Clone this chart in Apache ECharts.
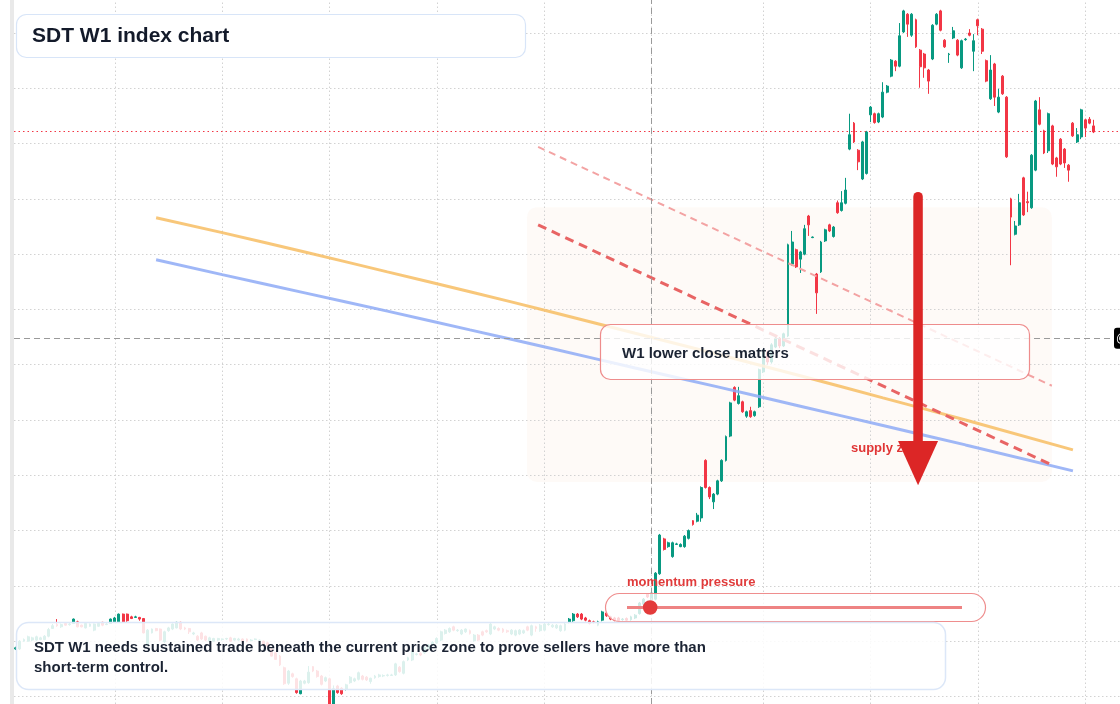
<!DOCTYPE html>
<html>
<head>
<meta charset="utf-8">
<title>SDT W1 index chart</title>
<script src="https://cdn.jsdelivr.net/npm/echarts@6/dist/echarts.min.js"></script>
<style>
  html, body { margin: 0; padding: 0; background: #fff; }
  #main { width: 1120px; height: 704px; }
</style>
</head>
<body>
<div id="main"></div>
<script>
// weekly candles, one row per week: [open, close, low, high]
var candles = [
  [108.6,108.8,108.4,109.0],[108.6,110.0,108.4,110.2],[110.0,110.3,109.9,110.5],[110.0,110.8,109.9,111.0],
  [110.2,110.6,110.0,110.8],[110.2,110.8,110.0,111.0],[110.3,110.6,110.2,110.8],[110.3,110.9,110.2,111.1],
  [110.9,112.1,110.7,112.4],[112.3,112.8,112.2,113.1],[113.0,112.8,112.6,114.0],[112.6,113.0,112.4,113.2],
  [113.2,112.9,112.8,113.4],[113.0,113.1,112.8,113.3],[113.2,114.0,113.1,114.1],[113.5,112.6,112.5,113.7],
  [112.9,112.6,112.5,113.0],[112.4,113.2,112.3,113.3],[112.7,113.1,112.6,113.2],[112.0,113.1,111.8,113.2],
  [112.7,113.2,112.6,113.4],[113.4,112.9,112.7,113.5],[113.0,113.1,112.9,113.3],[113.2,114.0,113.1,114.1],
  [113.5,114.2,113.3,114.4],[113.5,114.9,113.3,115.0],[114.9,113.5,113.4,115.0],[114.9,113.7,113.5,115.0],
  [114.4,114.1,114.0,114.6],[114.3,114.4,114.2,114.6],[114.3,114.0,113.7,114.4],[114.1,111.5,111.4,114.2],
  [109.3,112.0,109.1,112.2],[111.5,112.2,111.4,112.3],[112.3,111.9,111.8,112.4],[112.2,110.2,110.0,112.3],
  [109.9,111.7,109.7,111.9],[111.9,112.4,111.7,112.6],[112.2,113.1,112.0,113.2],[112.4,113.4,112.3,113.5],
  [113.4,112.2,112.0,113.5],[112.4,112.2,112.0,112.6],[112.3,111.7,111.3,112.4],[111.3,111.5,111.1,111.7],
  [110.9,110.2,110.0,111.1],[111.5,110.4,110.2,111.7],[110.9,110.2,110.0,111.0],[110.0,110.6,109.9,110.8],
  [110.0,110.5,109.9,110.6],[110.2,110.5,110.0,110.6],[110.3,110.4,110.1,110.5],[110.4,110.5,110.2,110.6],
  [110.6,110.0,109.9,110.8],[110.2,110.5,110.1,110.6],[110.2,110.4,110.1,110.6],[110.4,110.0,109.9,110.5],
  [110.4,110.0,109.8,110.5],[110.1,110.2,110.0,110.4],[110.3,110.4,110.2,110.5],[110.1,110.2,110.0,110.3],
  [110.0,109.4,109.3,110.1],[109.7,109.1,109.0,109.9],[108.5,107.3,107.2,108.7],[107.9,106.7,106.6,108.1],
  [107.3,105.7,105.5,107.5],[105.2,102.3,102.1,105.4],[102.4,104.6,102.1,104.8],[104.1,103.6,103.4,104.3],
  [103.2,100.7,100.5,103.4],[100.5,102.8,100.4,103.0],[102.4,102.8,102.2,103.0],[102.5,104.4,102.3,105.5],
  [105.4,104.6,104.4,105.5],[104.6,103.6,103.4,104.8],[103.7,102.2,102.0,103.9],[102.8,103.4,102.6,103.6],
  [103.2,98.3,97.9,103.4],[98.3,101.4,97.9,102.0],[101.9,100.7,100.5,102.1],[101.5,100.5,100.3,101.7],
  [101.3,102.1,101.1,102.3],[102.5,103.5,102.3,103.7],[102.8,103.2,102.6,103.4],[103.1,104.3,102.9,104.5],
  [103.7,103.1,102.9,103.9],[103.5,103.0,102.8,103.7],[102.7,103.3,102.3,103.4],[103.4,103.7,103.2,103.9],
  [103.6,103.9,103.4,104.1],[103.7,103.8,103.5,104.0],[103.8,103.9,103.6,104.1],[103.8,103.9,103.7,104.1],
  [103.9,105.9,103.7,106.1],[105.3,104.5,104.3,105.5],[104.2,106.3,104.0,106.5],[106.6,107.0,106.4,107.2],
  [106.6,108.1,106.4,108.3],[107.6,107.7,107.4,107.9],[107.8,107.5,107.3,108.0],[107.9,108.9,107.7,109.1],
  [108.7,109.3,108.5,109.5],[109.3,109.8,109.1,110.0],[109.7,110.5,109.5,110.7],[110.2,111.7,110.0,111.9],
  [111.4,112.0,111.2,112.2],[111.7,112.3,111.5,112.5],[112.6,112.0,111.8,112.8],[111.9,112.0,111.7,112.2],
  [111.3,112.0,111.1,112.2],[111.7,112.2,111.5,112.3],[111.9,111.4,111.2,112.1],[110.1,111.1,109.9,111.3],
  [111.1,110.2,110.0,111.3],[111.7,111.1,110.9,111.9],[111.9,111.7,111.5,112.1],[111.3,113.1,111.1,113.3],
  [112.2,112.6,112.0,112.8],[112.3,112.0,111.8,112.5],[112.2,111.7,111.5,112.4],[111.9,111.7,111.5,112.1],
  [111.3,112.0,111.1,112.2],[111.1,111.9,110.9,112.1],[111.3,112.0,111.1,112.2],[111.5,111.9,111.3,112.1],
  [112.6,112.0,111.8,112.8],[111.1,112.8,110.9,113.0],[112.6,112.3,111.7,112.8],[111.9,112.9,111.7,113.1],
  [112.0,113.1,111.8,113.3],[113.0,113.1,112.8,113.3],[112.6,112.9,112.4,113.1],[112.4,112.9,112.2,113.1],
  [111.9,112.8,111.7,113.0],[112.0,113.1,111.8,113.3],[113.4,114.0,113.2,114.2],[113.7,114.9,113.5,115.1],
  [114.9,114.4,114.2,115.1],[114.9,114.0,113.8,115.1],[114.2,113.8,113.6,114.4],[113.7,113.2,113.0,113.9],
  [113.5,113.4,113.2,113.7],[112.9,113.5,112.7,113.7],[113.8,115.3,113.6,115.5],[115.1,114.6,114.4,115.3],
  [114.4,114.0,113.8,114.6],[114.2,113.8,113.6,114.4],[114.2,113.7,113.5,114.4],[113.9,114.0,113.7,114.2],
  [114.1,113.8,113.6,114.3],[113.9,114.4,113.7,114.6],[114.2,114.7,114.0,114.9],[115.0,116.9,114.8,117.1],
  [116.7,117.6,116.5,117.8],[118.5,118.0,117.8,118.7],[117.5,118.7,117.3,118.9],[117.6,122.3,117.4,122.5],
  [122.2,129.2,122.0,129.4],[128.5,126.6,126.4,128.7],[127.1,127.8,126.9,128.0],[125.3,127.8,125.1,128.0],
  [127.5,127.6,127.4,127.8],[127.1,127.5,127.0,127.7],[127.1,129.0,126.9,129.2],[128.6,130.0,128.4,130.2],
  [131.8,131.1,130.9,131.9],[131.7,132.8,131.5,133.2],[132.3,137.8,131.6,138.0],[142.7,137.8,137.6,142.9],
  [137.8,136.1,135.7,138.0],[135.2,136.6,133.9,136.8],[136.6,139.0,136.4,139.2],[139.0,142.7,138.8,142.9],
  [142.7,147.0,142.5,147.2],[147.1,153.1,146.9,153.3],[155.9,153.6,153.4,156.1],[153.0,154.4,152.8,156.0],
  [153.3,151.5,151.3,153.5],[150.7,151.5,150.4,151.7],[151.7,150.6,150.4,152.4],[150.8,151.5,150.6,151.7],
  [152.4,159.1,152.2,159.3],[158.7,162.3,158.5,162.8],[162.3,160.5,160.0,162.6],[160.5,163.6,160.2,163.9],
  [163.2,164.8,163.0,165.2],[164.8,163.4,163.0,165.0],[163.4,165.6,163.2,165.8],[165.2,181.7,165.0,181.9],
  [178.2,182.2,177.9,184.2],[180.8,177.7,177.5,181.0],[179.1,180.4,176.6,180.6],[180.0,184.6,179.8,185.3],
  [186.9,185.3,183.3,187.1],[183.0,183.1,182.9,183.2],[176.4,173.0,169.2,176.6],[176.8,182.2,176.6,182.4],
  [182.4,184.4,182.2,184.6],[185.3,184.2,184.0,185.5],[183.2,184.9,183.0,185.1],[189.3,187.5,187.3,189.7],
  [187.9,189.3,187.7,191.4],[189.2,191.6,189.0,193.8],[199.0,201.6,198.8,205.4],[203.7,200.3,200.1,203.9],
  [198.8,196.7,195.2,199.0],[193.6,200.3,193.4,200.5],[194.6,202.1,194.4,202.3],[205.2,206.6,203.9,206.8],
  [205.4,203.8,203.6,205.6],[203.9,205.4,203.7,205.6],[204.8,209.3,204.6,211.1],[209.3,210.4,209.1,210.6],
  [212.2,215.1,212.0,215.3],[214.9,214.0,213.1,215.1],[214.0,219.5,213.8,221.8],[220.2,224.0,220.0,224.2],
  [223.4,221.6,219.3,223.6],[219.6,223.4,219.3,223.6],[222.4,217.5,217.3,222.6],[216.9,213.9,210.1,217.1],
  [216.2,213.7,211.9,216.4],[213.3,211.3,209.0,213.5],[215.3,221.4,215.1,221.6],[221.6,223.4,221.4,223.6],
  [224.0,220.5,220.3,224.2],[218.7,217.5,217.3,218.9],[216.1,216.2,214.6,216.4],[219.1,220.4,218.9,221.1],
  [218.7,216.0,215.8,218.9],[213.7,218.6,213.5,218.8],[218.8,218.9,218.6,219.1],[220.0,219.6,219.4,220.7],
  [216.7,218.6,213.1,219.8],[222.4,221.3,219.6,222.6],[220.7,216.7,216.2,220.9],[215.0,211.3,211.1,215.2],
  [208.1,213.3,207.9,216.0],[214.4,208.4,206.8,214.6],[205.7,208.4,205.5,209.9],[212.2,209.0,208.8,212.4],
  [208.4,197.6,197.4,208.6],[190.0,186.7,178.0,190.2],[183.6,185.1,183.4,186.0],[185.3,189.3,185.1,190.9],
  [193.8,187.1,186.9,194.0],[189.5,189.3,187.6,191.3],[188.4,197.9,188.2,198.1],[195.2,207.7,195.0,207.9],
  [206.1,203.5,203.3,208.4],[202.3,198.3,198.1,202.5],[198.7,205.4,198.3,205.6],[203.2,196.3,196.1,203.4],
  [197.4,195.8,194.0,197.6],[200.8,196.3,196.1,201.0],[199.0,196.5,195.6,199.2],[196.1,195.2,193.1,196.3],
  [203.7,201.4,201.2,203.9],[200.3,201.6,200.1,202.8],[201.2,206.1,200.8,206.3],[204.3,202.8,201.2,204.5],
  [204.4,203.7,203.5,204.8],[203.2,202.1,201.9,204.3]
];

// grid positions: half-year week marks and price levels
var gridWeeks = [24, 50, 76, 102, 128, 154, 181, 207, 233, 259];
var gridPrices = [100, 110, 120, 130, 140, 150, 160, 170, 180, 190, 200, 210, 220];
var crossWeek = 154;
var crossPrice = 164.8;
var lastPrice = 202.3;

// two long averages (orange = slow, blue = fast)
var avgWeeks = [34, 50, 70, 90, 110, 130, 150, 170, 190, 210, 230, 256];
var slowAvg = [186.6, 183.9, 180.4, 176.8, 173.2, 169.5, 165.7, 161.9, 158.0, 154.0, 150.0, 144.6];
var fastAvg = [179.0, 176.3, 173.0, 169.7, 166.3, 162.9, 159.4, 156.0, 152.5, 149.0, 145.5, 140.8];

// descending channel lines [week, price]
var upperChannel = [[126.5, 199.4], [250.9, 156.2]];
var lowerChannel = [[126.5, 185.3], [251.4, 141.7]];

// supply zone box and arrow, in weeks / price
var zoneWeeks = [123.8, 250.9];
var zonePrices = [188.5, 138.8];
var arrowWeek = 218.5;
var arrowPrices = [190.4, 146.2, 138.2];   // shaft top, head base, tip

var UP = '#089981', DOWN = '#f23645';
var FONT = '"Liberation Sans", Arial, sans-serif';
var GRID_LINE = { color: '#d2d2d2', width: 1, type: [1.5, 2.5] };

var chart = echarts.init(document.getElementById('main'));

var option = {
  animation: false,
  backgroundColor: '#ffffff',
  grid: { left: 14, right: 0, top: 0, bottom: 0 },
  xAxis: {
    type: 'value', min: -0.41, max: 267.4,
    axisLine: { show: false }, axisTick: { show: false }, axisLabel: { show: false },
    splitLine: { show: false }
  },
  yAxis: {
    type: 'value', min: 98.64, max: 225.97,
    axisLine: { show: false }, axisTick: { show: false }, axisLabel: { show: false },
    splitLine: { show: false }
  },
  series: [
    {
      type: 'candlestick',
      z: 2,
      silent: true,
      clip: false,
      barWidth: 2.4,
      data: candles.map(function (c, i) { return [i, c[0], c[1], c[2], c[3]]; }),
      itemStyle: { color: UP, color0: DOWN, borderColor: UP, borderColor0: DOWN, borderWidth: 1 },
      markLine: {
        z: 1, silent: true, symbol: 'none', animation: false,
        label: { show: false },
        lineStyle: GRID_LINE,
        data: gridWeeks.map(function (w) { return { xAxis: w }; })
          .concat(gridPrices.map(function (p) { return { yAxis: p }; }))
          .concat([{ yAxis: lastPrice, lineStyle: { color: DOWN, width: 1, type: [1.5, 3] } }])
      }
    },
    {
      type: 'line', z: 3, silent: true, smooth: true, symbol: 'none',
      data: avgWeeks.map(function (w, k) { return [w, slowAvg[k]]; }),
      lineStyle: { color: '#f7bd63', width: 3, opacity: 0.85 },
      markLine: {
        z: 4, silent: true, symbol: 'none', animation: false,
        label: { show: false },
        lineStyle: { color: '#9a9a9a', width: 1, type: [6, 4] },
        data: [{ xAxis: crossWeek }, { yAxis: crossPrice }]
      }
    },
    {
      type: 'line', z: 3, silent: true, smooth: true, symbol: 'none',
      data: avgWeeks.map(function (w, k) { return [w, fastAvg[k]]; }),
      lineStyle: { color: '#8eaaf6', width: 3, opacity: 0.85 }
    },
    {
      type: 'line', z: 3, silent: true, symbol: 'none',
      data: upperChannel,
      lineStyle: { color: '#f3a3a3', width: 2, type: [7, 5] }
    },
    {
      type: 'line', z: 3, silent: true, symbol: 'none',
      data: lowerChannel,
      lineStyle: { color: '#e86464', width: 3, type: [9, 6] }
    }
  ]
};

chart.setOption(option);

function px(week, price) { return chart.convertToPixel({ gridIndex: 0 }, [week, price]); }

var z1 = px(zoneWeeks[0], zonePrices[0]);
var z2 = px(zoneWeeks[1], zonePrices[1]);
var aTop = px(arrowWeek, arrowPrices[0]);
var aBase = px(arrowWeek, arrowPrices[1]);
var aTip = px(arrowWeek, arrowPrices[2]);
var cross = px(crossWeek, crossPrice);

chart.setOption({
  graphic: [
    // supply zone shading (under candles)
    { type: 'rect', z: 0, silent: true,
      shape: { x: z1[0], y: z1[1], width: z2[0] - z1[0], height: z2[1] - z1[1], r: 10 },
      style: { fill: 'rgba(230,150,90,0.05)' } },
    // left edge bar
    { type: 'rect', z: 5, silent: true, shape: { x: 10, y: 0, width: 4, height: 704 },
      style: { fill: '#e9e9e9' } },
    // title
    { type: 'rect', z: 10, silent: true, shape: { x: 16.5, y: 14.5, width: 509, height: 43, r: 10 },
      style: { fill: '#ffffff', stroke: '#d8e5f8', lineWidth: 1.2 } },
    { type: 'text', z: 11, silent: true,
      style: { x: 32, y: 36, text: 'SDT W1 index chart', fill: '#131a2a',
        font: 'bold 21px ' + FONT, verticalAlign: 'middle' } },
    // callout
    { type: 'rect', z: 10, silent: true, shape: { x: 600.5, y: 324.5, width: 429, height: 55, r: 10 },
      style: { fill: 'rgba(255,255,255,0.8)', stroke: '#ee8c8c', lineWidth: 1.2 } },
    { type: 'text', z: 11, silent: true,
      style: { x: 622, y: 354, text: 'W1 lower close matters', fill: '#1b2333',
        font: 'bold 15px ' + FONT, verticalAlign: 'middle' } },
    // supply zone label
    { type: 'text', z: 11, silent: true,
      style: { x: 851, y: 448, text: 'supply zone', fill: '#e03535',
        font: 'bold 13px ' + FONT, verticalAlign: 'middle' } },
    // arrow
    { type: 'line', z: 12, silent: true,
      shape: { x1: aTop[0], y1: aTop[1], x2: aBase[0], y2: aBase[1] + 4 },
      style: { stroke: '#dc2626', lineWidth: 9.5, lineCap: 'round' } },
    { type: 'polygon', z: 12, silent: true,
      shape: { points: [[aBase[0] - 20, aBase[1]], [aBase[0] + 20, aBase[1]], [aTip[0], aTip[1]]] },
      style: { fill: '#dc2626' } },
    // momentum pill
    { type: 'text', z: 11, silent: true,
      style: { x: 627, y: 582, text: 'momentum pressure', fill: '#e03b3b',
        font: 'bold 13px ' + FONT, verticalAlign: 'middle' } },
    { type: 'rect', z: 10, silent: true, shape: { x: 605.5, y: 593.5, width: 380, height: 28, r: 14 },
      style: { fill: 'rgba(255,255,255,0.8)', stroke: '#ef8e8e', lineWidth: 1.2 } },
    { type: 'line', z: 11, silent: true, shape: { x1: 627, y1: 607.5, x2: 962, y2: 607.5 },
      style: { stroke: '#ee8383', lineWidth: 3 } },
    { type: 'circle', z: 12, silent: true, shape: { cx: cross[0] - 1.5, cy: 607.5, r: 7.3 },
      style: { fill: '#e33b3b' } },
    // bottom note
    { type: 'rect', z: 10, silent: true, shape: { x: 16.5, y: 622.5, width: 929, height: 67, r: 12 },
      style: { fill: 'rgba(255,255,255,0.86)', stroke: '#dce7f8', lineWidth: 1.5 } },
    { type: 'text', z: 11, silent: true,
      style: { x: 34, y: 638, text: 'SDT W1 needs sustained trade beneath the current price zone to prove sellers have more than\nshort-term control.',
        fill: '#1b2333', font: 'bold 15px ' + FONT, lineHeight: 20, verticalAlign: 'top' } },
    // price scale label at crosshair (cut by the edge)
    { type: 'rect', z: 12, silent: true, shape: { x: 1114, y: cross[1] - 10.5, width: 40, height: 21, r: 3 },
      style: { fill: '#000000' } },
    { type: 'text', z: 13, silent: true,
      style: { x: 1116, y: cross[1], text: '@', fill: '#ffffff', font: '12px ' + FONT, verticalAlign: 'middle' } }
  ]
});
</script>
</body>
</html>
